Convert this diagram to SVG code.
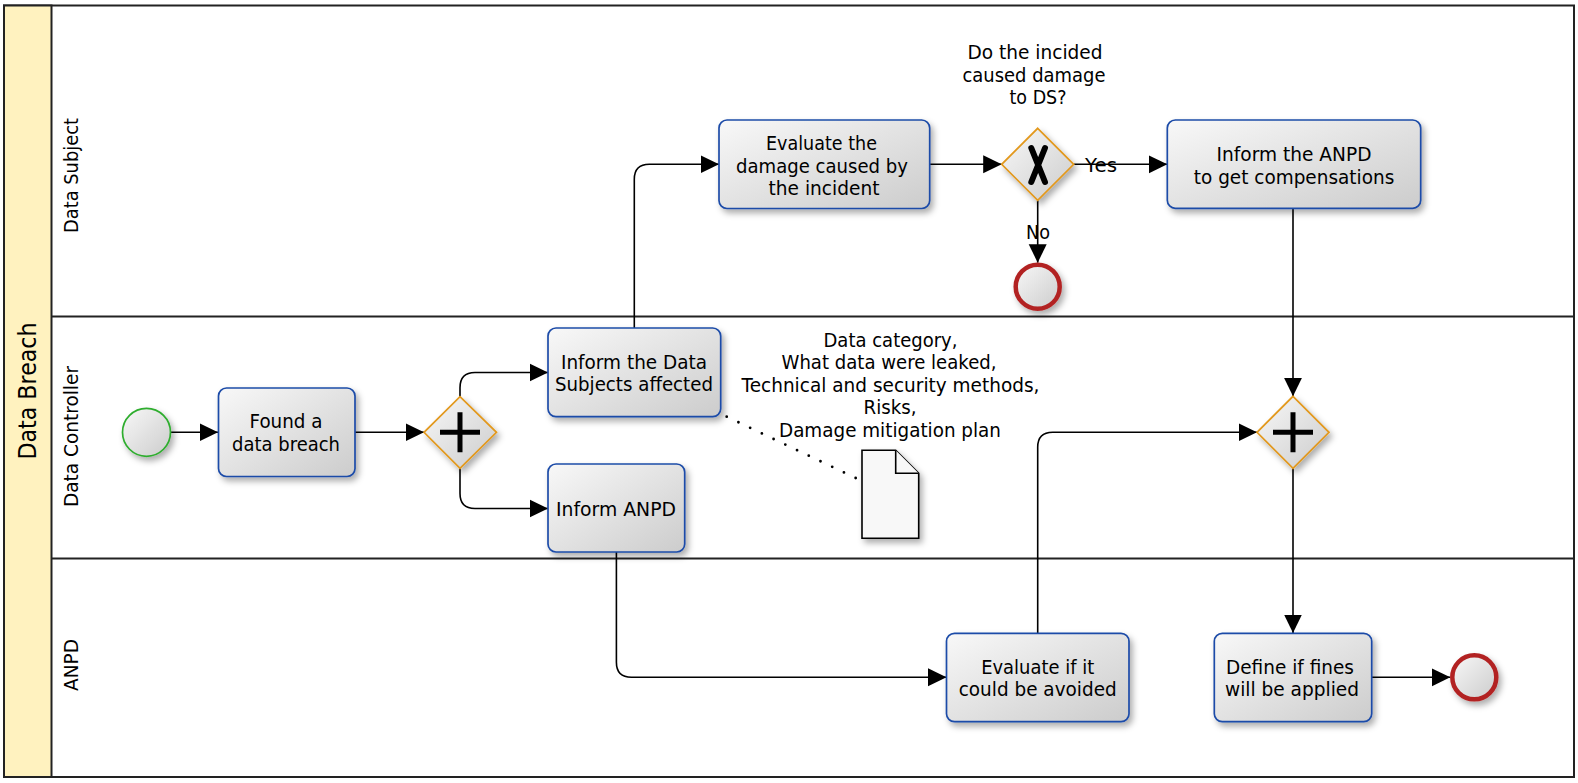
<svg xmlns="http://www.w3.org/2000/svg" width="1578" height="783" viewBox="0 0 1578 783">
<style>
text{font-family:"DejaVu Sans",sans-serif;font-size:19px;fill:#000;text-anchor:middle}
.pool{fill:#fff;stroke:#222;stroke-width:2}
.head{fill:#fff2bf;stroke:#222;stroke-width:2}
.lane{fill:none;stroke:#222;stroke-width:2}
.lt{font-size:19.5px}
.pt{font-size:24px}
.task{fill:url(#g);stroke:#1d4ca8;stroke-width:1.7;filter:url(#s)}
.gw{fill:url(#g);stroke:#e2981c;stroke-width:1.7;filter:url(#s)}
.start{fill:url(#g);stroke:#2ead2e;stroke-width:1.7;filter:url(#s)}
.end{fill:url(#g);stroke:#b22222;stroke-width:4.5;filter:url(#s)}
.doc{fill:#f8f8f8;stroke:#000;stroke-width:1.6;stroke-linejoin:miter}
.mk{fill:none;stroke:#000;stroke-width:5}
.flow{fill:none;stroke:#000;stroke-width:1.6;marker-end:url(#a)}
.assoc{fill:none;stroke:#000;stroke-width:2.8;stroke-linecap:round;stroke-dasharray:0 12.98}
</style>
<defs>
<linearGradient id="g" x1="0" y1="0" x2="1" y2="1"><stop offset="0" stop-color="#f8f8f8"/><stop offset="1" stop-color="#cccccc"/></linearGradient>
<filter id="s" x="-20%" y="-20%" width="150%" height="150%"><feDropShadow dx="3" dy="4" stdDeviation="3" flood-color="#000" flood-opacity="0.32"/></filter>
<marker id="a" markerUnits="userSpaceOnUse" markerWidth="20" markerHeight="20" refX="18.5" refY="9.5" orient="auto"><path d="M0 0.5L18.5 9.5L0 18.5Z" fill="#000"/></marker>
</defs>
<rect width="1578" height="783" fill="#fff"/>
<g id="pool">
<rect class="pool" x="4" y="5.5" width="1570" height="771.5"/>
<rect class="head" x="4" y="5.5" width="47.5" height="771.5"/>
<path class="lane" d="M51.5 316.5H1574M51.5 558.5H1574"/>
<text class="pt" transform="translate(36 391) rotate(-90)" textLength="137" lengthAdjust="spacingAndGlyphs">Data Breach</text>
<text class="lt" transform="translate(78 175.5) rotate(-90)" textLength="115" lengthAdjust="spacingAndGlyphs">Data Subject</text>
<text class="lt" transform="translate(78 436.5) rotate(-90)" textLength="141" lengthAdjust="spacingAndGlyphs">Data Controller</text>
<text class="lt" transform="translate(78 665) rotate(-90)" textLength="52" lengthAdjust="spacingAndGlyphs">ANPD</text>
</g>
<g id="connectors">
<path class="flow" d="M170.5 432.3H218"/>
<path class="flow" d="M355 432.3H424"/>
<path class="flow" d="M460 396.7V387.7Q460 372.5 475 372.5H548"/>
<path class="flow" d="M460 468.3V493.5Q460 508.5 475 508.5H548"/>
<path class="flow" d="M634.3 328V179.3Q634.3 164.3 649.3 164.3H719"/>
<path class="flow" d="M929.7 164.3H1001.7"/>
<path class="flow" d="M1073.7 164.3H1167.3"/>
<path class="flow" d="M1037.7 200.3V262.7"/>
<path class="flow" d="M1293 208.3V396.3"/>
<path class="flow" d="M616.4 552V662.3Q616.4 677.3 631.4 677.3H946.5"/>
<path class="flow" d="M1037.7 633.3V447.3Q1037.7 432.3 1052.7 432.3H1257"/>
<path class="flow" d="M1293 468.3V633"/>
<path class="flow" d="M1371.7 677.3H1450.3"/>
<path class="assoc" d="M726.7 416.7L855.7 478"/>
<text x="1101" y="171.7" textLength="32" lengthAdjust="spacingAndGlyphs">Yes</text>
<text x="1038" y="239" textLength="24" lengthAdjust="spacingAndGlyphs">No</text>
</g>
<g id="start"><circle class="start" cx="146.5" cy="432.3" r="24"/></g>
<g id="found-breach"><rect class="task" x="218.5" y="388" width="136.5" height="88.5" rx="8"/><text x="286" y="428" textLength="73" lengthAdjust="spacingAndGlyphs">Found a</text><text x="286" y="451" textLength="108" lengthAdjust="spacingAndGlyphs">data breach</text></g>
<g id="gateway-split"><path class="gw" d="M460 396.7L496.5 432.3L460 468.3L424 432.3Z"/><path class="mk" d="M440 432.3H480M460 412.3V452.3"/></g>
<g id="inform-subjects"><rect class="task" x="548" y="328" width="172.7" height="88.7" rx="8"/><text x="634" y="369.3" textLength="146" lengthAdjust="spacingAndGlyphs">Inform the Data</text><text x="634" y="391.3" textLength="158" lengthAdjust="spacingAndGlyphs">Subjects affected</text></g>
<g id="inform-anpd"><rect class="task" x="548" y="464" width="136.7" height="88" rx="8"/><text x="616" y="516" textLength="120" lengthAdjust="spacingAndGlyphs">Inform ANPD</text></g>
<g id="evaluate-damage"><rect class="task" x="719" y="120" width="210.7" height="88.5" rx="8"/><text x="821.5" y="150" textLength="111" lengthAdjust="spacingAndGlyphs">Evaluate the</text><text x="822" y="172.5" textLength="172" lengthAdjust="spacingAndGlyphs">damage caused by</text><text x="824" y="195" textLength="111" lengthAdjust="spacingAndGlyphs">the incident</text></g>
<g id="gateway-damage"><path class="gw" d="M1037.7 128.3L1073.7 164.3L1037.7 200.3L1001.7 164.3Z"/><path d="M1031.3 148L1045 182M1045 148L1031.3 182" fill="none" stroke="#000" stroke-width="6" stroke-linecap="round"/><text x="1035" y="59" textLength="135" lengthAdjust="spacingAndGlyphs">Do the incided</text><text x="1034" y="81.5" textLength="143" lengthAdjust="spacingAndGlyphs">caused damage</text><text x="1038" y="104" textLength="57" lengthAdjust="spacingAndGlyphs">to DS?</text></g>
<g id="end-no"><circle class="end" cx="1037.7" cy="286.7" r="22"/></g>
<g id="inform-compensation"><rect class="task" x="1167.3" y="120" width="253.4" height="88.3" rx="8"/><text x="1294" y="161" textLength="155" lengthAdjust="spacingAndGlyphs">Inform the ANPD</text><text x="1294" y="184" textLength="200.5" lengthAdjust="spacingAndGlyphs">to get compensations</text></g>
<g id="data-object"><path class="doc" filter="url(#s)" d="M862 450.3H895.7L918.7 473.3V538.3H862Z"/><path class="doc" d="M895.7 450.3V473.3H918.7"/><text x="890.5" y="346.5" textLength="134" lengthAdjust="spacingAndGlyphs">Data category,</text><text x="889" y="369" textLength="215" lengthAdjust="spacingAndGlyphs">What data were leaked,</text><text x="890.5" y="391.5" textLength="298" lengthAdjust="spacingAndGlyphs">Technical and security methods,</text><text x="890" y="414" textLength="53" lengthAdjust="spacingAndGlyphs">Risks,</text><text x="890" y="436.5" textLength="222" lengthAdjust="spacingAndGlyphs">Damage mitigation plan</text></g>
<g id="gateway-join"><path class="gw" d="M1293 396.3L1329 432.3L1293 468.3L1257 432.3Z"/><path class="mk" d="M1273 432.3H1313M1293 412.3V452.3"/></g>
<g id="evaluate-avoid"><rect class="task" x="946.5" y="633.3" width="182.5" height="88.4" rx="8"/><text x="1037.7" y="674" textLength="113" lengthAdjust="spacingAndGlyphs">Evaluate if it</text><text x="1037.7" y="696" textLength="158" lengthAdjust="spacingAndGlyphs">could be avoided</text></g>
<g id="define-fines"><rect class="task" x="1214.3" y="633.3" width="157.4" height="88.4" rx="8"/><text x="1290" y="674" textLength="128" lengthAdjust="spacingAndGlyphs">Define if fines</text><text x="1292" y="696" textLength="134" lengthAdjust="spacingAndGlyphs">will be applied</text></g>
<g id="end-final"><circle class="end" cx="1474.3" cy="677.3" r="22"/></g>
</svg>
